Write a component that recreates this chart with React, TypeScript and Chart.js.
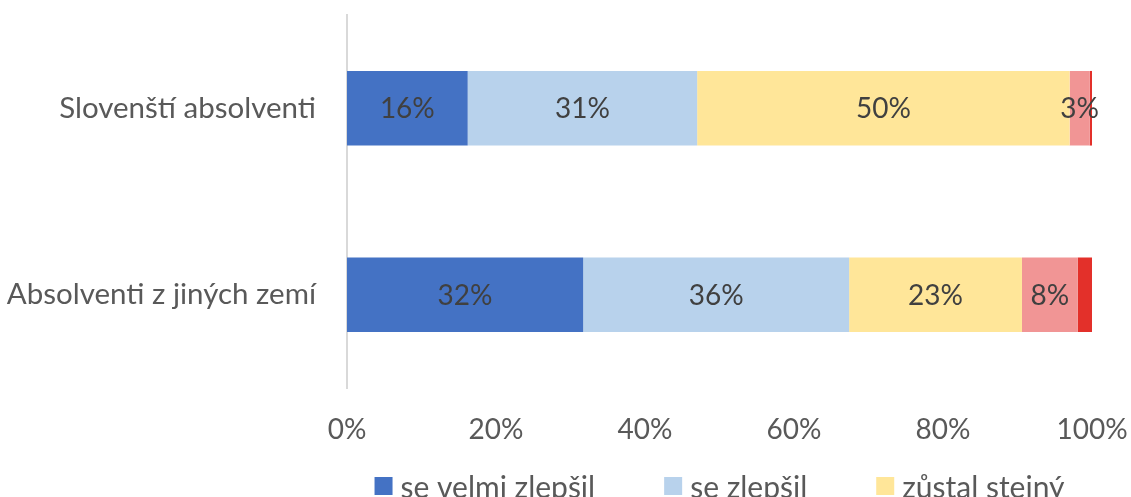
import { useEffect, useRef } from "react";
import { Chart, registerables } from "chart.js";

Chart.register(...registerables);

const FONT = "Lato";

const categories = ["Slovenští absolventi", "Absolventi z jiných zemí"];
const seriesNames = ["se velmi zlepšil", "se zlepšil", "zůstal stejný", "se zhoršil", "se velmi zhoršil"];
const velmiZlepsil = [16.2, 31.7];
const zlepsil = [30.8, 35.7];
const zustalStejny = [50.0, 23.2];
const zhorsil = [2.7, 7.5];
const velmiZhorsil = [0.3, 1.9];
const xTicks = [0, 20, 40, 60, 80, 100];

const seriesColors = ["#4472C4", "#B8D2EC", "#FFE699", "#F19595", "#E3302A"];

export default function App() {
  const ref = useRef<HTMLCanvasElement>(null);

  useEffect(() => {
    const canvas = ref.current;
    if (!canvas) return;

    const dataLabels = {
      id: "dataLabels",
      afterDatasetsDraw(chart: any) {
        const ctx = chart.ctx;
        ctx.save();
        ctx.font = `28px ${FONT}`;
        ctx.fillStyle = "#404040";
        ctx.textAlign = "center";
        ctx.textBaseline = "middle";
        chart.data.datasets.forEach((ds: any, di: number) => {
          const meta = chart.getDatasetMeta(di);
          meta.data.forEach((el: any, i: number) => {
            const v = ds.data[i];
            if (v < 2) return;
            const cx = (el.x + el.base) / 2;
            ctx.fillText(Math.round(v) + "%", cx, el.y + 1);
          });
        });
        ctx.restore();
      },
    };

    const legend = {
      id: "customLegend",
      afterDraw(chart: any) {
        const ctx = chart.ctx;
        const area = chart.chartArea;
        ctx.save();
        ctx.font = `30px ${FONT}`;
        ctx.textBaseline = "alphabetic";
        ctx.textAlign = "left";
        const box = 18;
        const gapBoxText = 8;
        const gapItems = 69;
        const maxW = area.right - area.left;
        const items = chart.data.datasets.map((ds: any) => ({
          text: ds.label,
          color: ds.backgroundColor,
          w: box + gapBoxText + ctx.measureText(ds.label).width,
        }));
        const rows: any[][] = [[]];
        let rowW = 0;
        items.forEach((it: any) => {
          const add = (rows[rows.length - 1].length ? gapItems : 0) + it.w;
          if (rows[rows.length - 1].length && rowW + add > maxW) {
            rows.push([it]);
            rowW = it.w;
          } else {
            rows[rows.length - 1].push(it);
            rowW += add;
          }
        });
        const cx = (area.left + area.right) / 2;
        rows.forEach((row, r) => {
          const total = row.reduce((s: number, it: any) => s + it.w, 0) + gapItems * (row.length - 1);
          let x = cx - total / 2;
          const top = area.bottom + 89 + r * 40;
          row.forEach((it: any) => {
            ctx.fillStyle = it.color;
            ctx.fillRect(x, top, box, box);
            ctx.fillStyle = "#595959";
            ctx.fillText(it.text, x + box + gapBoxText, top + 21);
            x += it.w + gapItems;
          });
        });
        ctx.restore();
      },
    };

    const seriesData = [velmiZlepsil, zlepsil, zustalStejny, zhorsil, velmiZhorsil];

    const chart = new Chart(canvas, {
      type: "bar",
      data: {
        labels: categories,
        datasets: seriesData.map((d, i) => ({
          label: seriesNames[i],
          data: d,
          backgroundColor: seriesColors[i],
          borderWidth: 0,
          categoryPercentage: 0.8,
          barPercentage: 0.5,
        })),
      },
      options: {
        indexAxis: "y",
        responsive: false,
        animation: false,
        layout: { padding: { top: 15, right: 39, bottom: 49, left: 0 } },
        plugins: {
          legend: { display: false },
          tooltip: { enabled: false },
        },
        scales: {
          x: {
            stacked: true,
            min: 0,
            max: 100,
            afterBuildTicks: (scale: any) => {
              scale.ticks = xTicks.map((v) => ({ value: v }));
            },
            afterFit: (scale: any) => {
              scale.height = 60;
              scale.paddingLeft = 0;
              scale.paddingRight = 0;
              scale.paddingTop = 0;
              scale.paddingBottom = 0;
            },
            grid: { display: false, drawTicks: false },
            border: { display: false },
            ticks: {
              padding: 25,
              color: "#595959",
              font: { family: FONT, size: 28 },
              callback: (v: any) => v + "%",
            },
          },
          y: {
            stacked: true,
            afterFit: (scale: any) => {
              scale.width = 347;
              scale.paddingLeft = 0;
              scale.paddingRight = 0;
              scale.paddingTop = 0;
              scale.paddingBottom = 0;
            },
            grid: { display: false, drawTicks: false },
            border: { display: true, color: "#D9D9D9", width: 2 },
            ticks: {
              padding: 31,
              color: "#595959",
              font: { family: FONT, size: 29.5 },
            },
          },
        },
      },
      plugins: [dataLabels, legend],
    });

    return () => chart.destroy();
  }, []);

  return (
    <div style={{ position: "fixed", left: 0, top: 0, width: 1131, height: 497, background: "#fff" }}>
      <canvas ref={ref} width={1131} height={497} style={{ display: "block" }} />
    </div>
  );
}
